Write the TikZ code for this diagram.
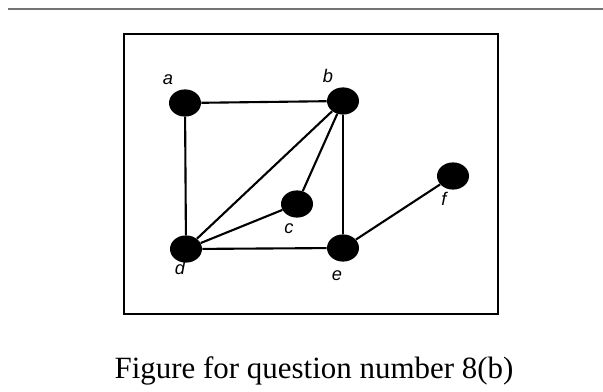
\documentclass[tikz,border=0pt]{standalone}
\usepackage{fontspec}
\setmainfont{Liberation Serif}
\newfontfamily\labelfont{Liberation Sans}
\usetikzlibrary{shapes.geometric}

\begin{document}
\begin{tikzpicture}[x=0.025cm,y=-0.025cm,
  vertex/.style={ellipse,fill=black,minimum width=0.8cm,minimum height=0.68cm,inner sep=0pt},
  edge/.style={line width=1.5pt},
  vlabel/.style={anchor=base,inner sep=0pt,font=\labelfont\itshape\fontsize{13}{15}\selectfont}]
\useasboundingbox (0,0) rectangle (603,392);
\draw[black!55,line width=1pt] (8,9) -- (603,9);
\draw[line width=1.7pt] (124,34) rectangle (498,314);

\node[vertex] (a) at (185,103) {};
\node[vertex] (b) at (343,101) {};
\node[vertex] (c) at (297,204) {};
\node[vertex] (d) at (186,249) {};
\node[vertex] (e) at (343,248) {};
\node[vertex] (f) at (453,176) {};

\draw[edge] (a) -- (b);
\draw[edge] (a) -- (d);
\draw[edge] (b) -- (d);
\draw[edge] (b) -- (c);
\draw[edge] (c) -- (d);
\draw[edge] (d) -- (e);
\draw[edge] (b) -- (e);
\draw[edge] (e) -- (f);

\node[vlabel] (la) at (168,85) {a};
\node[vlabel] (lb) at (328,83) {b};
\node[vlabel] (lc) at (289,234) {c};
\node[vlabel] (ld) at (180,274) {d};
\node[vlabel] (le) at (337,281) {e};
\node[vlabel] (lf) at (444,206) {f};

\node[anchor=base,inner sep=0pt,font=\fontsize{22}{26}\selectfont] (caption) at (314,378) {Figure for question number 8(b)};
\end{tikzpicture}
\end{document}
